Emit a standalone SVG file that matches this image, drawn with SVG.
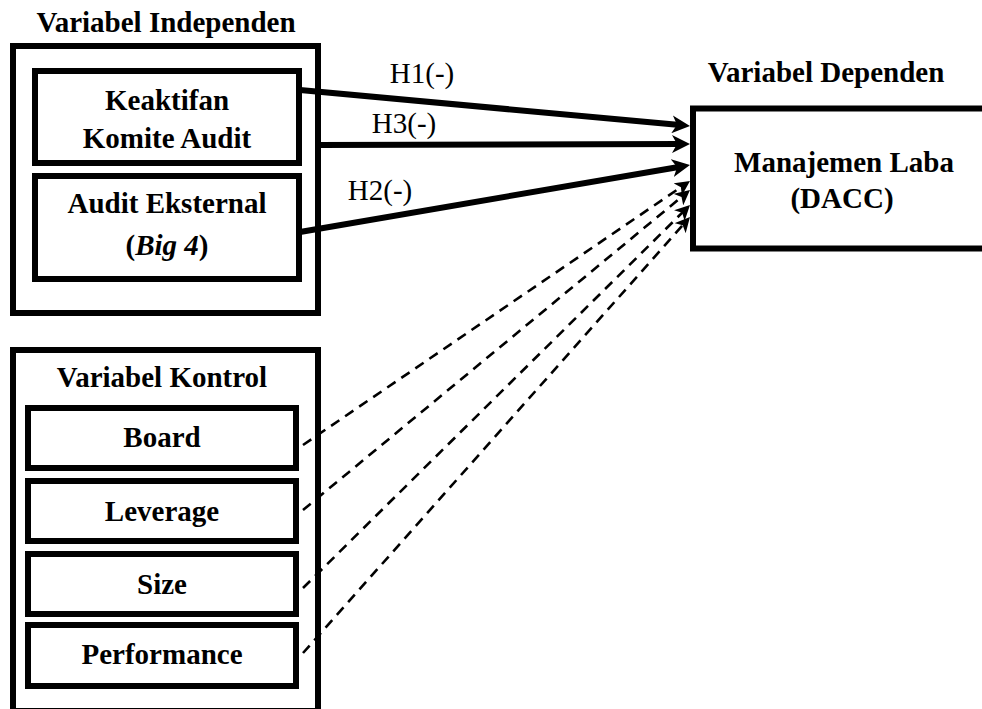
<svg xmlns="http://www.w3.org/2000/svg" width="982" height="709" viewBox="0 0 982 709" font-family="Liberation Serif, DejaVu Serif, serif">
<style>
  .box { fill: #fff; stroke: #000; stroke-width: 6; }
  text { font-family: 'Liberation Serif', 'DejaVu Serif', serif; font-size: 29px; fill: #000; text-anchor: middle; }
  .b { font-weight: bold; }
  .solid { stroke: #000; stroke-width: 6; fill: none; marker-end: url(#ah); }
  .dash { stroke: #000; stroke-width: 2.6; fill: none; stroke-dasharray: 10 7; marker-end: url(#ahd); }
</style>
<defs>
  <marker id="ah" markerUnits="userSpaceOnUse" markerWidth="18" markerHeight="18" refX="8" refY="9" orient="auto" viewBox="0 0 18 18">
    <path d="M0,0 L18,9 L0,18 L5,9 Z" fill="#000"/>
  </marker>
  <marker id="ahd" markerUnits="userSpaceOnUse" markerWidth="15" markerHeight="15" refX="7" refY="7.5" orient="auto" viewBox="0 0 15 15">
    <path d="M0,0 L15,7.5 L0,15 L4,7.5 Z" fill="#000"/>
  </marker>
</defs>
<rect width="982" height="709" fill="#fff"/>

<g id="independen">
  <text class="b" x="166" y="32">Variabel Independen</text>
  <rect class="box" x="13" y="46" width="305" height="267"/>
</g>
<g id="keaktifan">
  <rect class="box" x="35" y="71" width="264" height="92"/>
  <text class="b" x="167" y="110">Keaktifan</text>
  <text class="b" x="167" y="148">Komite Audit</text>
</g>
<g id="audit-eksternal">
  <rect class="box" x="35" y="176" width="264" height="103"/>
  <text class="b" x="167" y="213">Audit Eksternal</text>
  <text class="b" x="167" y="255">(<tspan font-style="italic">Big 4</tspan>)</text>
</g>

<g id="kontrol">
  <rect class="box" x="13" y="350" width="305" height="361"/>
  <text class="b" x="162" y="387">Variabel Kontrol</text>
</g>
<g id="board">
  <rect class="box" x="28" y="408" width="268" height="60"/>
  <text class="b" x="162" y="447">Board</text>
</g>
<g id="leverage">
  <rect class="box" x="28" y="481" width="268" height="60"/>
  <text class="b" x="162" y="521">Leverage</text>
</g>
<g id="size">
  <rect class="box" x="28" y="554" width="268" height="60"/>
  <text class="b" x="162" y="594">Size</text>
</g>
<g id="performance">
  <rect class="box" x="28" y="625" width="268" height="61"/>
  <text class="b" x="162" y="664">Performance</text>
</g>

<g id="dependen">
  <text class="b" x="826" y="82">Variabel Dependen</text>
  <rect class="box" x="693" y="108.5" width="400" height="140"/>
  <text class="b" x="844" y="172">Manajemen Laba</text>
  <text class="b" x="842" y="208">(DACC)</text>
</g>

<g id="connectors">
  <line class="solid" x1="300" y1="90" x2="680.04" y2="125.08"/>
  <line class="solid" x1="318" y1="145" x2="680" y2="144.03"/>
  <line class="solid" x1="300" y1="232" x2="680.14" y2="166.69"/>
  <line class="dash" x1="303" y1="445" x2="683.39" y2="185.51"/>
  <line class="dash" x1="303" y1="510" x2="683.84" y2="195.10"/>
  <line class="dash" x1="303" y1="588" x2="684.31" y2="210.63"/>
  <line class="dash" x1="303" y1="653" x2="684.69" y2="222.98"/>
  <text x="422" y="83">H1(-)</text>
  <text x="404" y="133">H3(-)</text>
  <text x="380" y="200">H2(-)</text>
</g>
</svg>
